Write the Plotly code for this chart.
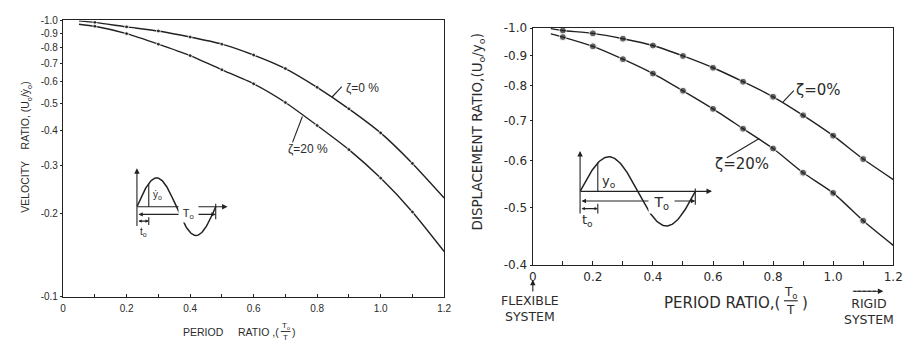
import numpy as np
import plotly.graph_objects as go

# ---------------- data (magnitudes, axis labelled negative) ----------------
period_left = [0.05, 0.1, 0.2, 0.3, 0.4, 0.5, 0.6, 0.7, 0.8, 0.9, 1.0, 1.1, 1.2]
velocity_z0 = [0.996, 0.984, 0.948, 0.916, 0.871, 0.821, 0.750, 0.670, 0.573, 0.479, 0.392, 0.304, 0.228]
velocity_z20 = [0.969, 0.953, 0.896, 0.821, 0.746, 0.663, 0.590, 0.505, 0.417, 0.341, 0.269, 0.203, 0.146]

period_right = [0.06, 0.1, 0.2, 0.3, 0.4, 0.5, 0.6, 0.7, 0.8, 0.9, 1.0, 1.1, 1.2]
displacement_z0 = [0.998, 0.991, 0.980, 0.960, 0.935, 0.898, 0.858, 0.813, 0.767, 0.714, 0.660, 0.603, 0.557]
displacement_z20 = [0.978, 0.966, 0.932, 0.887, 0.839, 0.785, 0.732, 0.678, 0.628, 0.572, 0.529, 0.475, 0.432]

x_tick_vals = [0, 0.2, 0.4, 0.6, 0.8, 1.0, 1.2]
x_tick_text = ["0", "0.2", "0.4", "0.6", "0.8", "1.0", "1.2"]
x_minor_vals = [0.1, 0.3, 0.5, 0.7, 0.9, 1.1]
vel_tick_vals = [0.1, 0.2, 0.3, 0.4, 0.5, 0.6, 0.7, 0.8, 0.9, 1.0]
vel_tick_text = ["-0.1", "-0.2", "-0.3", "-0.4", "-0.5", "-0.6", "-0.7", "-0.8", "-0.9", "-1.0"]
disp_tick_vals = [0.4, 0.5, 0.6, 0.7, 0.8, 0.9, 1.0]
disp_tick_text = ["-0.4", "-0.5", "-0.6", "-0.7", "-0.8", "-0.9", "-1.0"]

# ---------------- styling ----------------
W, H = 918, 351
INK = "#222222"
TXT = "#2b2b2b"
FONT_L = "Liberation Sans"
FONT_R = "DejaVu Sans"

def px(x0, x1):
    return [x0 / W, x1 / W]

def py(top, bottom):
    return [1 - bottom / H, 1 - top / H]

fig = go.Figure()

def add_series(xs, ys, xa, ya, msize):
    sizes = [0] + [msize] * (len(xs) - 2) + [0]
    fig.add_trace(go.Scatter(
        x=xs, y=ys, xaxis=xa, yaxis=ya, mode="lines+markers",
        line=dict(color=INK, width=1.4, shape="spline", smoothing=0.6),
        marker=dict(color=INK, size=sizes), showlegend=False, hoverinfo="skip"))

add_series(period_left, velocity_z0, "x", "y", 4)
add_series(period_left, velocity_z20, "x", "y", 4)
add_series(period_right, displacement_z0, "x2", "y2", 7)
add_series(period_right, displacement_z20, "x2", "y2", 7)

# ---------------- inset sine diagrams (schematic, pixel overlay axes) ----------------
def sine(x0, y0, period, amp):
    t = np.linspace(0, 1, 120)
    return list(x0 + t * period), list(y0 - amp * np.sin(2 * np.pi * t))

for (x0, y0, per, amp) in [(135, 208, 80, 30), (585, 192, 117, 36)]:
    sx, sy = sine(x0, y0, per, amp)
    fig.add_trace(go.Scatter(x=sx, y=sy, xaxis="x3", yaxis="y3", mode="lines",
                             line=dict(color=INK, width=1.5), showlegend=False, hoverinfo="skip"))

shapes = []
annotations = []

def line(x0, y0, x1, y1, w=1.1, dash=None):
    d = dict(type="line", xref="x3", yref="y3", x0=x0, y0=y0, x1=x1, y1=y1,
             line=dict(color=INK, width=w))
    if dash:
        d["line"]["dash"] = dash
    shapes.append(d)

def arrow(xh, yh, xt, yt, head=2, side="end", size=1, w=1.1):
    annotations.append(dict(x=xh, y=yh, ax=xt, ay=yt, xref="x3", yref="y3", axref="x3", ayref="y3",
                            text="", showarrow=True, arrowhead=head, arrowsize=size, arrowwidth=w,
                            arrowcolor=INK, arrowside=side))

def text(x, y, s, size, family=FONT_L, xanchor="center", angle=0, bg=None):
    d = dict(x=x, y=y, xref="x3", yref="y3", text=s, showarrow=False, xanchor=xanchor,
             yanchor="middle", textangle=angle, font=dict(family=family, size=size, color=TXT))
    if bg:
        d["bgcolor"] = bg
    annotations.append(d)

# left inset
arrow(135, 168, 135, 209)
arrow(227, 208, 134, 208)
line(147, 208, 147, 184)
arrow(215, 216, 135, 216, head=2, side="end+start", size=0.8)
line(215, 205, 215, 221)
line(135, 208, 135, 228)
line(147, 219, 147, 227)
arrow(147, 223, 135, 223, head=2, side="end+start", size=0.6)
text(156, 196, "ẏ<sub>o</sub>", 10)
text(187, 216, " T<sub>o</sub> ", 11, bg="white")
text(142, 234, "t<sub>o</sub>", 10)

# right inset
arrow(585, 150, 585, 193)
arrow(719, 192, 584, 192)
line(603, 192, 603, 162)
arrow(702, 202, 585, 202, head=2, side="end+start", size=0.8)
line(702, 189, 702, 206)
line(585, 192, 585, 215)
line(603, 205, 603, 215)
arrow(603, 210, 585, 210, head=2, side="end+start", size=0.6)
text(614, 182, "y<sub>o</sub>", 13, family=FONT_R)
text(668, 204, " T<sub>o</sub> ", 14, family=FONT_R, bg="white")
text(593, 222, "t<sub>o</sub>", 13, family=FONT_R)

# zeta labels with leader lines
line(333, 94, 343, 83)
text(345, 84, "ζ=0 %", 12, xanchor="left")
line(293, 141, 303, 114)
text(286, 148, "ζ=20 %", 12, xanchor="left")
line(791, 99, 802, 87)
text(802, 86, "ζ=0%", 15, family=FONT_R, xanchor="left")
line(734, 157, 767, 137)
text(720, 163, "ζ=20%", 15, family=FONT_R, xanchor="left")

# axis titles
text(23, 146, "VELOCITY    RATIO, (U<sub>o</sub>/ẏ<sub>o</sub>)", 10.5, angle=-90)
text(481, 130, "DISPLACEMENT RATIO,(U<sub>o</sub>/y<sub>o</sub>)", 13.5, family=FONT_R, angle=-90)

# left x title with stacked fraction
text(180, 339, "PERIOD", 10.5, xanchor="left")
text(281, 339, "RATIO ,(", 10.5, xanchor="right")
text(286, 332, "T<sub>o</sub>", 8)
line(281, 338, 291, 338, w=0.9)
text(286, 344, "T", 8)
text(294, 339, ")", 10.5)

# right x title with stacked fraction
text(790, 308, "PERIOD RATIO,(", 15, family=FONT_R, xanchor="right")
text(799, 298, "T<sub>o</sub>", 12, family=FONT_R)
line(792, 306, 806, 306, w=1.1)
text(799, 316, "T", 12, family=FONT_R)
text(813, 308, ")", 15, family=FONT_R)

# flexible / rigid notes
arrow(537, 284, 537, 298, head=2, size=1)
text(534, 314, "FLEXIBLE<br>SYSTEM", 12.5, family=FONT_R)
arrow(893, 296, 862, 296, head=2, size=1)
line(862, 296, 887, 296, dash="3px,2px")
text(878, 317, "RIGID<br>SYSTEM", 12.5, family=FONT_R)

# ---------------- axes ----------------
def xaxis(domain, anchor, fsize, family, minor_len, standoff):
    return dict(domain=domain, anchor=anchor, range=[0, 1.2], tickvals=x_tick_vals, ticktext=x_tick_text,
                ticks="inside", ticklen=minor_len, tickcolor=INK, showline=True, mirror=True,
                linecolor=INK, linewidth=1.4, showgrid=False, zeroline=False,
                ticklabelstandoff=standoff,
                minor=dict(tickvals=x_minor_vals, ticks="inside", ticklen=minor_len, tickcolor=INK),
                tickfont=dict(family=family, size=fsize, color=TXT), fixedrange=True)

def yaxis(domain, anchor, rng, vals, txt, fsize, family):
    return dict(domain=domain, anchor=anchor, type="log", range=rng, tickvals=vals, ticktext=txt,
                ticks="outside", ticklen=2, tickcolor=INK, showline=True, mirror=True,
                linecolor=INK, linewidth=1.4, showgrid=False, zeroline=False,
                tickfont=dict(family=family, size=fsize, color=TXT), fixedrange=True)

fig.update_layout(
    width=W, height=H, margin=dict(l=0, r=0, t=0, b=0),
    paper_bgcolor="white", plot_bgcolor="rgba(0,0,0,0)",
    xaxis=xaxis(px(60, 447), "y", 10, FONT_L, 3, 2),
    yaxis=yaxis(py(14, 302), "x", [-1, 0], vel_tick_vals, vel_tick_text, 10, FONT_L),
    xaxis2=xaxis(px(537, 903), "y2", 12, FONT_R, 4, 0),
    yaxis2=yaxis(py(22, 269), "x2", [np.log10(0.4), 0], disp_tick_vals, disp_tick_text, 12, FONT_R),
    xaxis3=dict(domain=[0, 1], anchor="y3", range=[0, W], visible=False, fixedrange=True),
    yaxis3=dict(domain=[0, 1], anchor="x3", range=[H, 0], visible=False, fixedrange=True),
    shapes=shapes, annotations=annotations, showlegend=False,
)

fig.write_html("out.html")
